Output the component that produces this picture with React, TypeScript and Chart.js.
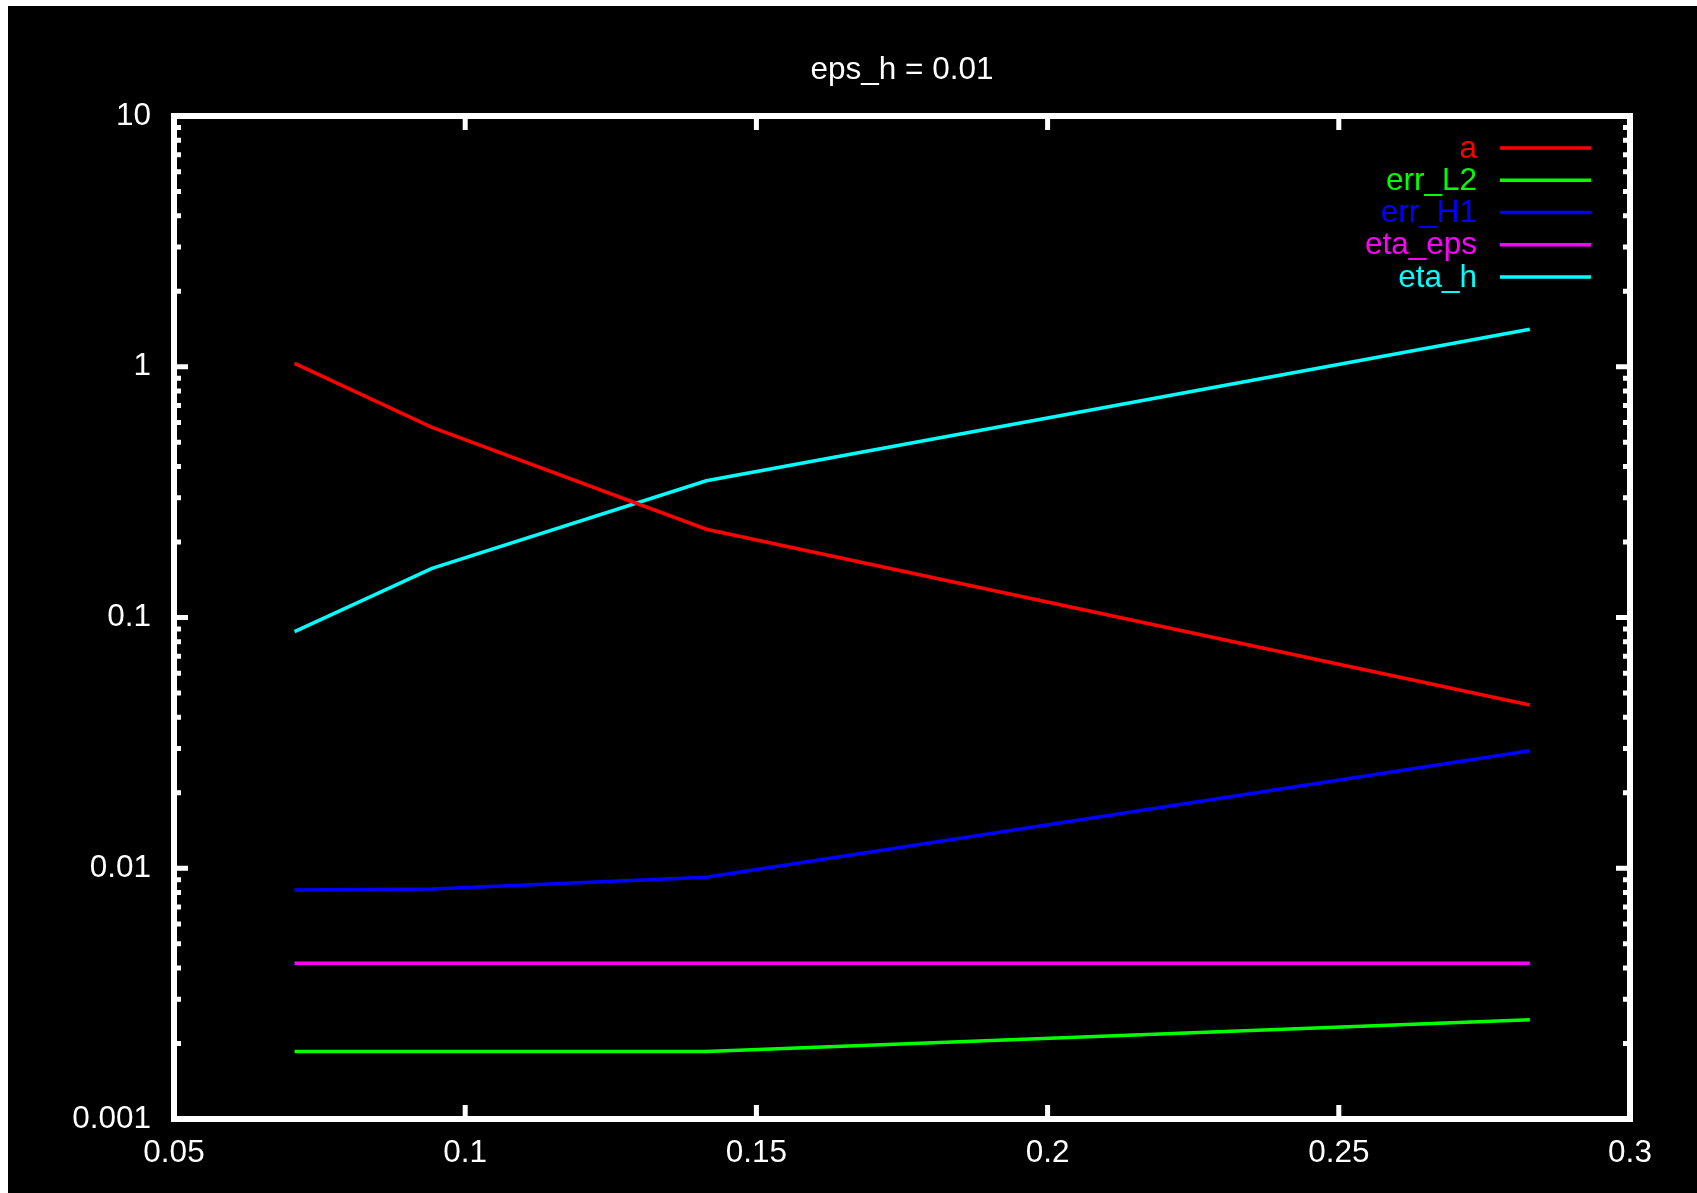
import React, { useEffect, useRef } from "react";
import { Chart, registerables } from "chart.js";

Chart.register(...registerables);

const titleText = "eps_h = 0.01";
const xValues = [0.0707, 0.0943, 0.1414, 0.2828];
const seriesLabels = ["a", "err_L2", "err_H1", "eta_eps", "eta_h"];
const seriesColors = ["#ff0000", "#00ff00", "#0000ff", "#ff00ff", "#00ffff"];
const aValues = [1.032, 0.573, 0.225, 0.0448];
const errL2Values = [0.00186, 0.00186, 0.00186, 0.00249];
const errH1Values = [0.00819, 0.00827, 0.0092, 0.0294];
const etaEpsValues = [0.00418, 0.00418, 0.00418, 0.00418];
const etaHValues = [0.0879, 0.157, 0.351, 1.41];
const xTicks = [0.05, 0.1, 0.15, 0.2, 0.25, 0.3];
const xTickLabels = ["0.05", "0.1", "0.15", "0.2", "0.25", "0.3"];
const yTicks = [0.001, 0.01, 0.1, 1, 10];
const yTickLabels = ["0.001", "0.01", "0.1", "1", "10"];

const FONT = '"Liberation Sans", Arial, Helvetica, sans-serif';
const FONT_SIZE = 31.5;
const W = 1689;
const H = 1187;

const gnuplotFrame = {
  id: "gnuplotFrame",
  afterDraw(chart: any) {
    const { ctx, chartArea } = chart;
    const { left, right, top, bottom } = chartArea;
    const x = chart.scales.x;
    const y = chart.scales.y;
    ctx.save();
    ctx.strokeStyle = "#ffffff";
    ctx.lineCap = "butt";
    // x ticks (top and bottom, inward)
    ctx.lineWidth = 5;
    for (const v of xTicks) {
      const px = x.getPixelForValue(v);
      ctx.beginPath();
      ctx.moveTo(px, bottom);
      ctx.lineTo(px, bottom - 14);
      ctx.moveTo(px, top);
      ctx.lineTo(px, top + 14);
      ctx.stroke();
    }
    // y ticks: major and minor, left and right
    for (let k = -3; k <= 1; k++) {
      for (let m = 1; m <= 9; m++) {
        if (k === 1 && m > 1) break;
        const v = m * Math.pow(10, k);
        const py = y.getPixelForValue(v);
        const len = m === 1 ? 14 : 7;
        ctx.beginPath();
        ctx.moveTo(left, py);
        ctx.lineTo(left + len, py);
        ctx.moveTo(right, py);
        ctx.lineTo(right - len, py);
        ctx.stroke();
      }
    }
    // border
    ctx.lineWidth = 6;
    ctx.strokeRect(left, top, right - left, bottom - top);
    // title
    ctx.fillStyle = "#ffffff";
    ctx.font = `${FONT_SIZE}px ${FONT}`;
    ctx.textAlign = "center";
    ctx.textBaseline = "alphabetic";
    ctx.fillText(titleText, (left + right) / 2, 73);
    // legend
    const ds = chart.data.datasets;
    ctx.textAlign = "right";
    ctx.textBaseline = "middle";
    for (let i = 0; i < ds.length; i++) {
      const ly = top + 32 + i * 32.25;
      ctx.fillStyle = ds[i].borderColor;
      ctx.fillText(ds[i].label, right - 153, ly + 1);
      ctx.strokeStyle = ds[i].borderColor;
      ctx.lineWidth = 3.5;
      ctx.beginPath();
      ctx.moveTo(right - 130, ly);
      ctx.lineTo(right - 39, ly);
      ctx.stroke();
    }
    ctx.restore();
  },
};

export default function App() {
  const ref = useRef<HTMLCanvasElement | null>(null);
  useEffect(() => {
    document.body.style.overflow = "hidden";
    const canvas = ref.current;
    if (!canvas) return;
    const allValues = [aValues, errL2Values, errH1Values, etaEpsValues, etaHValues];
    const chart = new Chart(canvas, {
      type: "line",
      data: {
        datasets: allValues.map((vals, i) => ({
          label: seriesLabels[i],
          data: xValues.map((xv, j) => ({ x: xv, y: vals[j] })),
          borderColor: seriesColors[i],
          backgroundColor: seriesColors[i],
          borderWidth: 3.5,
          pointRadius: 0,
          fill: false,
          tension: 0,
        })),
      },
      options: {
        responsive: false,
        animation: false,
        devicePixelRatio: 1,
        layout: { padding: { top: 110, right: 67, left: 0, bottom: 0 } },
        plugins: {
          legend: { display: false },
          title: { display: false },
          tooltip: { enabled: false },
        },
        scales: {
          x: {
            type: "linear",
            min: 0.05,
            max: 0.3,
            grid: { display: false, drawTicks: false },
            border: { display: false },
            afterBuildTicks: (s: any) => {
              s.ticks = xTicks.map((v) => ({ value: v }));
            },
            afterFit: (s: any) => {
              s.height = 74;
            },
            ticks: {
              color: "#ffffff",
              font: { family: FONT, size: FONT_SIZE },
              padding: 15,
              maxRotation: 0,
              autoSkip: false,
              callback: (_v: any, i: number) => xTickLabels[i],
            },
          },
          y: {
            type: "logarithmic",
            min: 0.001,
            max: 10,
            grid: { display: false, drawTicks: false },
            border: { display: false },
            afterBuildTicks: (s: any) => {
              s.ticks = yTicks.map((v) => ({ value: v }));
            },
            afterFit: (s: any) => {
              s.width = 166;
            },
            ticks: {
              color: "#ffffff",
              font: { family: FONT, size: FONT_SIZE },
              padding: 23,
              autoSkip: false,
              callback: (_v: any, i: number) => yTickLabels[i],
            },
          },
        },
      },
      plugins: [gnuplotFrame],
    });
    return () => chart.destroy();
  }, []);
  return (
    <div style={{ position: "absolute", left: 8, top: 6, width: W, height: H, background: "#000" }}>
      <canvas ref={ref} width={W} height={H} style={{ display: "block", width: W, height: H, background: "#000" }} />
    </div>
  );
}
